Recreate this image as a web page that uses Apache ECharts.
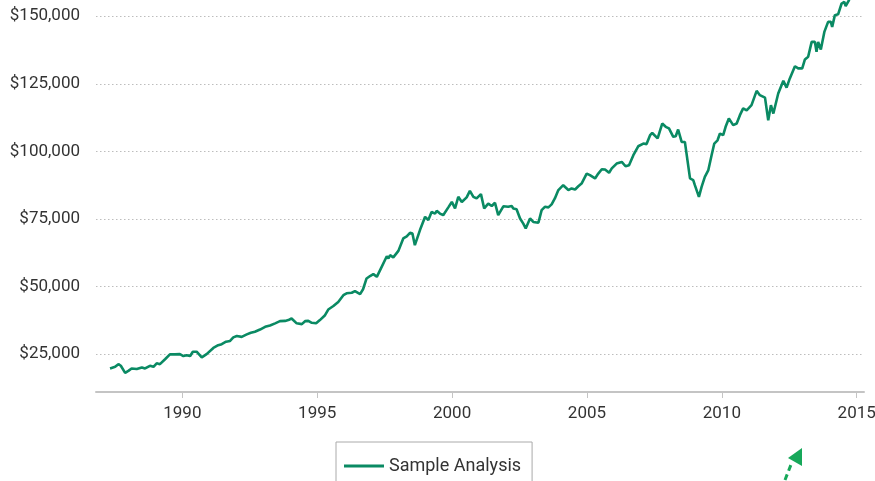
<!DOCTYPE html>
<html>
<head>
<meta charset="utf-8">
<title>Sample Analysis</title>
<script src="https://cdn.jsdelivr.net/npm/echarts@6/dist/echarts.min.js"></script>
<style>
    html, body { margin: 0; padding: 0; background: #fff; }
    #chart { width: 875px; height: 481px; }
</style>
</head>
<body>
<div id="chart"></div>
<script>
// 读图得到的数据（年份为小数年）
var years = [
    1987.32, 1987.51, 1987.63, 1987.72, 1987.88, 1988.00, 1988.12, 1988.31, 1988.50, 1988.62,
    1988.80, 1988.93, 1989.05, 1989.17, 1989.36, 1989.54, 1989.73, 1989.91, 1990.04, 1990.16,
    1990.29, 1990.39, 1990.53, 1990.72, 1990.90, 1991.15, 1991.33, 1991.46, 1991.62, 1991.77,
    1991.89, 1992.02, 1992.20, 1992.39, 1992.54, 1992.69, 1992.88, 1993.07, 1993.25, 1993.44,
    1993.62, 1993.81, 1993.93, 1994.05, 1994.24, 1994.43, 1994.55, 1994.67, 1994.80, 1994.96,
    1995.10, 1995.29, 1995.41, 1995.60, 1995.78, 1995.97, 1996.09, 1996.28, 1996.40, 1996.59,
    1996.70, 1996.83, 1996.96, 1997.08, 1997.21, 1997.39, 1997.58, 1997.64, 1997.70, 1997.82,
    1998.01, 1998.19, 1998.32, 1998.44, 1998.53, 1998.62, 1998.81, 1999.00, 1999.12, 1999.24,
    1999.37, 1999.43, 1999.55, 1999.67, 1999.86, 1999.99, 2000.11, 2000.23, 2000.36, 2000.54,
    2000.66, 2000.79, 2000.91, 2001.07, 2001.19, 2001.34, 2001.47, 2001.59, 2001.71, 2001.90,
    2002.08, 2002.21, 2002.27, 2002.39, 2002.52, 2002.64, 2002.73, 2002.89, 2003.01, 2003.20,
    2003.32, 2003.44, 2003.57, 2003.69, 2003.81, 2003.94, 2004.12, 2004.31, 2004.43, 2004.56,
    2004.68, 2004.80, 2004.99, 2005.11, 2005.30, 2005.42, 2005.55, 2005.67, 2005.82, 2005.92,
    2006.10, 2006.29, 2006.43, 2006.56, 2006.72, 2006.90, 2007.09, 2007.21, 2007.34, 2007.42,
    2007.62, 2007.79, 2007.92, 2008.04, 2008.20, 2008.29, 2008.38, 2008.51, 2008.63, 2008.82,
    2008.94, 2009.00, 2009.15, 2009.25, 2009.37, 2009.50, 2009.62, 2009.72, 2009.84, 2009.93,
    2010.05, 2010.14, 2010.26, 2010.30, 2010.42, 2010.55, 2010.67, 2010.79, 2010.92, 2011.10,
    2011.29, 2011.41, 2011.60, 2011.72, 2011.82, 2011.91, 2012.09, 2012.28, 2012.40, 2012.52,
    2012.71, 2012.83, 2012.98, 2013.08, 2013.20, 2013.33, 2013.45, 2013.51, 2013.57, 2013.67,
    2013.80, 2013.94, 2014.04, 2014.09, 2014.19, 2014.31, 2014.44, 2014.54, 2014.59, 2014.71,
    2014.80
];
var values = [
    19700, 20300, 21300, 20700, 18100, 18800, 19700, 19500, 20100, 19700,
    20700, 20300, 21600, 21300, 23100, 24900, 24900, 25000, 24300, 24600,
    24300, 25900, 25900, 23800, 25000, 27300, 28300, 28700, 29600, 29900,
    31200, 31700, 31400, 32300, 32900, 33300, 34100, 35100, 35600, 36400,
    37200, 37300, 37600, 38200, 36400, 36100, 37200, 37300, 36600, 36400,
    37600, 39400, 41500, 42800, 44300, 46800, 47500, 47700, 48300, 47200,
    49000, 53000, 53900, 54600, 53600, 57300, 61200, 60400, 61600, 60800,
    63200, 67800, 68600, 69900, 69600, 65300, 70900, 75800, 74600, 77600,
    77000, 78000, 77000, 76400, 79300, 81300, 78900, 83200, 81300, 83000,
    85400, 83200, 82600, 84200, 78900, 80700, 79800, 81000, 76400, 79700,
    79500, 79800, 78900, 78600, 75200, 73300, 71500, 75200, 73900, 73600,
    78300, 79500, 79300, 80400, 82600, 85700, 87500, 85700, 86300, 85900,
    87100, 88100, 91800, 91200, 90000, 91800, 93400, 93300, 92100, 93700,
    95500, 96100, 94500, 94900, 98600, 101900, 102900, 102700, 106000, 106800,
    104800, 110300, 109100, 108500, 105400, 105600, 108100, 103500, 103500, 90000,
    89400, 87500, 83200, 86900, 90600, 93100, 98600, 102900, 104100, 106600,
    106000, 109100, 112200, 112800, 109700, 110300, 113400, 115900, 115200, 117100,
    122400, 120800, 119900, 111500, 117100, 114000, 121400, 126100, 123600, 127000,
    131500, 130700, 130700, 134000, 135000, 140500, 140500, 136800, 140500, 137700,
    144200, 147900, 147900, 146000, 150400, 150700, 154700, 155300, 153700, 155900,
    158000
];
var yTicks = [25000, 50000, 75000, 100000, 125000, 150000];
var xTicks = [1990, 1995, 2000, 2005, 2010, 2015];
var seriesName = 'Sample Analysis';

var lineData = [];
for (var i = 0; i < years.length; i++) {
    lineData.push([years[i], values[i]]);
}

var myChart = echarts.init(document.getElementById('chart'));
var option = {
    backgroundColor: '#fff',
    animation: false,
    textStyle: { fontFamily: 'Roboto' },
    grid: {
        left: 96,
        right: 11,
        top: 0,
        bottom: 89,
        outerBoundsMode: 'none'
    },
    legend: {
        data: [{ name: seriesName, icon: 'rect' }],
        left: 336,
        top: 442,
        padding: [15, 11, 20, 8],
        borderColor: '#aaa',
        borderWidth: 1,
        borderRadius: 0,
        itemWidth: 40,
        itemHeight: 3,
        itemGap: 6,
        textStyle: { fontSize: 18, color: '#333', fontFamily: 'Roboto' }
    },
    xAxis: {
        type: 'value',
        min: 1986.8,
        max: 2015.27,
        axisLine: { show: true, lineStyle: { color: '#c4c4c4', width: 2 } },
        axisTick: { show: true, length: 6, customValues: xTicks, lineStyle: { color: '#c4c4c4', width: 1 } },
        axisLabel: {
            customValues: xTicks,
            margin: 13,
            fontSize: 17,
            color: '#333',
            formatter: function (v) { return String(Math.round(v)); }
        },
        splitLine: { show: false }
    },
    yAxis: {
        type: 'value',
        min: 11000,
        max: 156000,
        axisLine: { show: false },
        axisTick: { show: false, customValues: yTicks },
        axisLabel: {
            customValues: yTicks,
            margin: 16,
            fontSize: 17,
            color: '#333',
            formatter: function (v) { return '$' + v.toLocaleString('en-US'); }
        },
        splitLine: {
            show: true,
            lineStyle: { color: '#bdbdbd', type: [1.5, 2.5], width: 1 }
        }
    },
    series: [{
        name: seriesName,
        type: 'line',
        data: lineData,
        symbol: 'none',
        clip: true,
        lineStyle: { color: '#0a8a63', width: 2.6 },
        itemStyle: { color: '#0a8a63' }
    }],
    // 右下角的绿色虚线箭头
    graphic: [{
        type: 'line',
        shape: { x1: 785, y1: 480, x2: 792, y2: 462 },
        style: { stroke: '#17a85a', lineWidth: 3, lineDash: [6, 4] }
    }, {
        type: 'polygon',
        shape: { points: [[802, 448], [788, 458], [802, 466]] },
        style: { fill: '#17a85a' }
    }]
};
myChart.setOption(option);
</script>
</body>
</html>
